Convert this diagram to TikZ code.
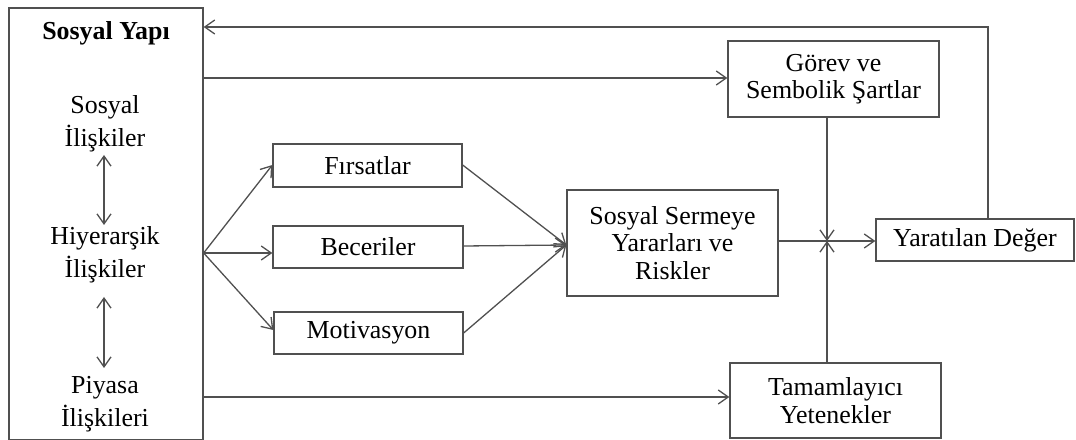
\documentclass[tikz,border=0pt]{standalone}
\usepackage{fontspec}
\setmainfont{Liberation Serif}
\usetikzlibrary{arrows.meta}
\definecolor{ln}{HTML}{505050}
\tikzset{
  box/.style={draw=ln, line width=1.3bp, rectangle, inner sep=0pt, align=center,
    font=\fontsize{26}{27.5}\selectfont},
  txt/.style={inner sep=0pt, align=center, font=\fontsize{26}{33}\selectfont},
  conn/.style={draw=ln, line width=1.3bp, -{Straight Barb[length=10bp,width=14bp,line width=1.3bp]}},
  dconn/.style={draw=ln, line width=1.3bp, {Straight Barb[length=10bp,width=14bp,line width=1.3bp]}-{Straight Barb[length=10bp,width=14bp,line width=1.3bp]}},
  plain/.style={draw=ln, line width=1.3bp}
}
\begin{document}
\begin{tikzpicture}[x=1bp,y=-1bp]
\useasboundingbox (0,0) rectangle (1076,440);
% big box
\node[box, minimum width=194bp, minimum height=432bp] (sy) at (106,224) {};
\node[txt, font=\fontsize{26}{33}\selectfont\bfseries] (syt) at (106,33) {Sosyal Yapı};
\node[txt] (si) at (105,124) {Sosyal\\İlişkiler};
\node[txt] (hi) at (105,255) {Hiyerarşik\\İlişkiler};
\node[txt] (pi) at (105,404) {Piyasa\\İlişkileri};
% boxes
\node[box, minimum width=211bp, minimum height=76bp] (gorev) at (833.5,79) {Görev ve\\Sembolik Şartlar};
\node[box, minimum width=211bp, minimum height=75bp] (tam) at (835.5,400.5) {Tamamlayıcı\\Yetenekler};
\node[box, minimum width=198bp, minimum height=42bp] (yar) at (975,240) {Yaratılan Değer};
\node[box, minimum width=211bp, minimum height=106bp] (ser) at (672.5,243) {Sosyal Sermeye\\Yararları ve\\Riskler};
\node[box, minimum width=189bp, minimum height=43bp] (fir) at (367.5,165.5) {Fırsatlar};
\node[box, minimum width=190bp, minimum height=42bp] (bec) at (368,247) {Beceriler};
\node[box, minimum width=189bp, minimum height=42bp] (mot) at (368.5,333) {Motivasyon};
% coordinates
\coordinate (fan) at (sy.east |- 0,253);
\coordinate (top) at (988,27);
\coordinate (cross) at (827,241);
% left double arrows
\draw[dconn] (104,155) coordinate (a1) -- (104,225) coordinate (a2);
\draw[dconn] (104,297) coordinate (b1) -- (104,368) coordinate (b2);
% feedback
\draw[conn] (yar.north -| top) -- (top) -- (sy.east |- top);
% to Görev and Tamamlayıcı
\draw[conn] (sy.east |- 0,78) -- (gorev.west |- 0,78);
\draw[conn] (sy.east |- 0,397) -- (tam.west |- 0,397);
% fan out
\draw[conn] (fan) -- (fir.west |- 0,165);
\draw[conn] (fan) -- (bec.west |- fan);
\draw[conn] (fan) -- (mot.west |- 0,330);
% converge
\coordinate (sin) at (ser.west |- 0,245);
\draw[conn] (fir.east |- 0,165) -- (sin);
\draw[conn] (bec.east |- 0,246) -- (sin);
\draw[conn] (mot.east |- 0,333) -- (sin);
% to Yaratılan
\draw[conn] (ser.east |- cross) -- (yar.west |- cross);
\draw[conn] (gorev.south -| cross) -- (cross);
\draw[conn] (tam.north -| cross) -- (cross);
\end{tikzpicture}
\end{document}
